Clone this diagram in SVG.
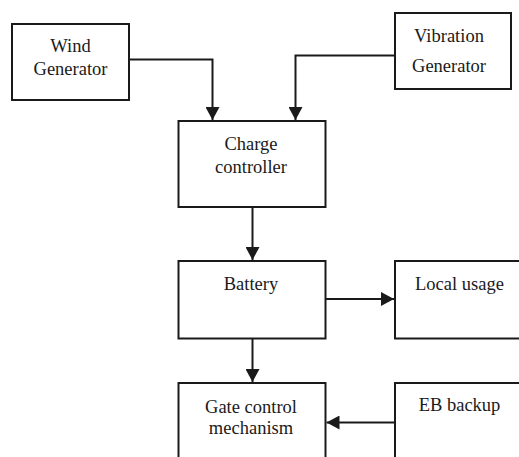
<svg xmlns="http://www.w3.org/2000/svg" width="519" height="457" viewBox="0 0 519 457">
  <style>
    .box { fill: #ffffff; stroke: #1a1a1a; stroke-width: 2; }
    .lbl { font-family: "Liberation Serif", "Times New Roman", serif; font-size: 18.5px; fill: #1a1a1a; text-anchor: middle; }
    .wire { fill: none; stroke: #1a1a1a; stroke-width: 2; }
  </style>
  <defs>
    <!-- filled triangular arrowhead shared by all connectors -->
    <marker id="arrow" viewBox="0 0 13 14" refX="13" refY="7" markerWidth="13" markerHeight="14" markerUnits="userSpaceOnUse" orient="auto">
      <path d="M0,0 L13,7 L0,14 Z" fill="#1a1a1a"/>
    </marker>
  </defs>
  <rect width="519" height="457" fill="#ffffff"/>

  <g id="wind-generator">
    <rect class="box" x="12" y="24" width="117" height="76"/>
    <text class="lbl" x="70.5" y="52">Wind</text>
    <text class="lbl" x="70.5" y="75">Generator</text>
  </g>

  <g id="vibration-generator">
    <rect class="box" x="395" y="13" width="116" height="76"/>
    <text class="lbl" x="449" y="42">Vibration</text>
    <text class="lbl" x="449" y="72">Generator</text>
  </g>

  <g id="charge-controller">
    <rect class="box" x="178.5" y="121" width="147" height="86"/>
    <text class="lbl" x="251" y="150">Charge</text>
    <text class="lbl" x="251" y="173">controller</text>
  </g>

  <g id="battery">
    <rect class="box" x="178.5" y="261" width="147" height="77.5"/>
    <text class="lbl" x="251" y="290">Battery</text>
  </g>

  <g id="local-usage">
    <rect class="box" x="395" y="261" width="140" height="77.5"/>
    <text class="lbl" x="459.5" y="289.5">Local usage</text>
  </g>

  <g id="gate-control">
    <rect class="box" x="178.5" y="383" width="147" height="90"/>
    <text class="lbl" x="251" y="413">Gate control</text>
    <text class="lbl" x="251" y="434">mechanism</text>
  </g>

  <g id="eb-backup">
    <rect class="box" x="395" y="383" width="140" height="90"/>
    <text class="lbl" x="459.5" y="411">EB backup</text>
  </g>

  <g id="connectors">
    <polyline class="wire" points="129,59.5 212.5,59.5 212.5,120" marker-end="url(#arrow)"/>
    <polyline class="wire" points="395,55.5 295.5,55.5 295.5,120" marker-end="url(#arrow)"/>
    <line class="wire" x1="252.5" y1="207" x2="252.5" y2="260" marker-end="url(#arrow)"/>
    <line class="wire" x1="325.5" y1="299" x2="394" y2="299" marker-end="url(#arrow)"/>
    <line class="wire" x1="252.5" y1="338.5" x2="252.5" y2="382" marker-end="url(#arrow)"/>
    <line class="wire" x1="395" y1="422.5" x2="326.5" y2="422.5" marker-end="url(#arrow)"/>
  </g>
</svg>
